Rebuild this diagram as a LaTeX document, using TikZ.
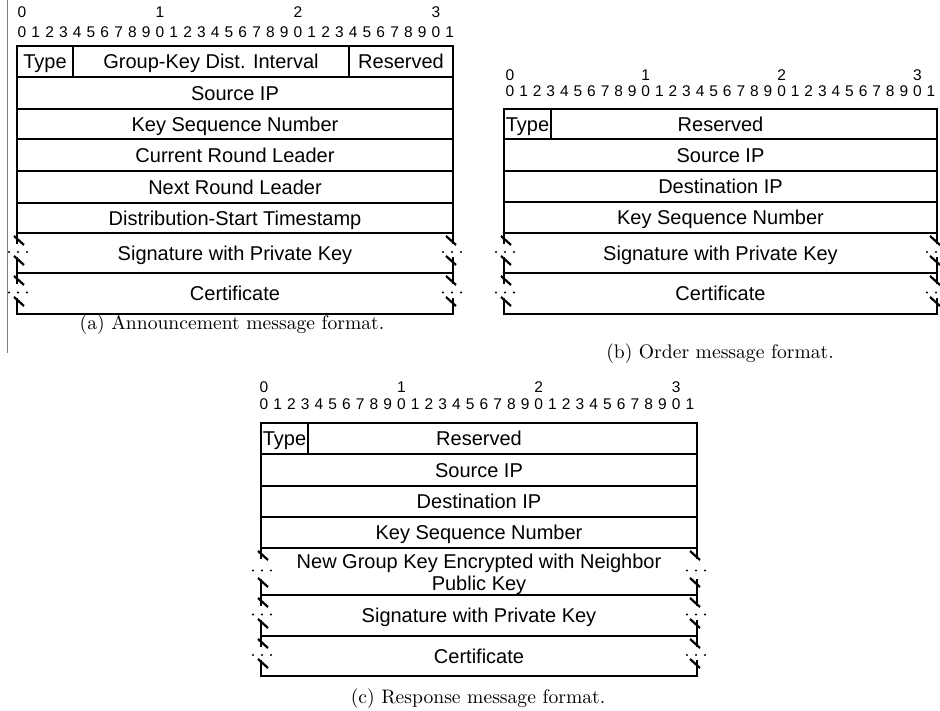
\documentclass[tikz,border=0pt]{standalone}
\usepackage{fontspec}
\newfontfamily\arialf{Liberation Sans}
\newfontfamily\capfont{lmroman10-regular.otf}
\tikzset{
  box/.style={line width=1.8pt, line cap=rect},
  slashl/.style={line width=2.2pt},
  cell/.style={font=\arialf\fontsize{20}{24}\selectfont, inner sep=0pt, text height=14.4pt, text depth=0pt},
  digit/.style={font=\arialf\fontsize{15.5}{18}\selectfont, inner sep=0pt, text height=11pt, text depth=0pt},
  capt/.style={font=\capfont\fontsize{19.6}{23}\selectfont, inner sep=0pt, text height=13.5pt, text depth=0pt}
}
% broken side: x, top, bottom, inward direction (1 left, -1 right)
\newcommand\brkside[4]{%
  \draw[box] (#1,#2) -- ({#1},{#2+10});
  \draw[slashl] ({#1+(#4)*2-5},{#2+3}) -- ({#1+(#4)*2+5},{#2+12});
  \foreach \q in {-9,0,9} \fill ({#1+\q+(#4)},{(#2+#3)/2-1}) circle (1.1);
  \draw[slashl] ({#1+(#4)*2-5},{#3-17}) -- ({#1+(#4)*2+5},{#3-8});
  \draw[box] ({#1},{#3-15}) -- (#1,#3);
}
% bit header: prefix, x0, dx, y top, y bottom
\newcommand\bithead[5]{%
  \foreach \i in {0,...,31} {%
    \pgfmathtruncatemacro\dd{mod(\i,10)}%
    \node[digit] (#1\i) at ({#2+#3*\i},#5) {\dd};
  }
  \foreach \i/\t in {0/0,10/1,20/2,30/3}
    \node[digit] (#1t\i) at ({#2+#3*\i},#4) {\t};
}
\begin{document}
\begin{tikzpicture}[x=1pt,y=-1pt]
\useasboundingbox (0,0) rectangle (940,711);
\fill[white] (0,0) rectangle (940,711);

% stray grey rule at the left
\draw[gray, line width=1.5pt] (7.5,0) coordinate (g1) -- (7.5,353) coordinate (g2);

% ---------------- (a) Announcement ----------------
\bithead{ha}{22}{13.8}{12.5}{32}
\draw[box] (17,46) rectangle (453,233);
\foreach \y in {77,109,139,171,203} \draw[box] (17,\y) -- (453,\y);
\draw[box] (73,46) -- (73,77) (349,46) -- (349,77);
\draw[box] (17,273) -- (453,273) (17,314) -- (453,314);
\brkside{17}{233}{273}{1}
\brkside{453}{233}{273}{-1}
\brkside{17}{273}{314}{1}
\brkside{453}{273}{314}{-1}
\node[cell] (a0) at (45,61.5) {Type};
\node[cell] (a1) at (211,61.5) {Group-Key Dist. Interval};
\node[cell] (a2) at (401,61.5) {Reserved};
\node[cell] (a3) at (235,93) {Source IP};
\node[cell] (a4) at (235,124) {Key Sequence Number};
\node[cell] (a5) at (235,155) {Current Round Leader};
\node[cell] (a6) at (235,187) {Next Round Leader};
\node[cell] (a7) at (235,218) {Distribution-Start Timestamp};
\node[cell] (a8) at (235,253) {Signature with Private Key};
\node[cell] (a9) at (235,293.5) {Certificate};
\node[capt] (acap) at (232,323) {(a) Announcement message format.};

% ---------------- (b) Order ----------------
\bithead{hb}{510}{13.58}{75.5}{91}
\draw[box] (504,109) rectangle (937,233);
\foreach \y in {139,171,202} \draw[box] (504,\y) -- (937,\y);
\draw[box] (551,109) -- (551,139);
\draw[box] (504,273) -- (937,273) (504,314) -- (937,314);
\brkside{504}{233}{273}{1}
\brkside{937}{233}{273}{-1}
\brkside{504}{273}{314}{1}
\brkside{937}{273}{314}{-1}
\node[cell] (b0) at (527.5,124) {Type};
\node[cell] (b1) at (720.5,124) {Reserved};
\node[cell] (b2) at (720.5,155) {Source IP};
\node[cell] (b3) at (720.5,186.5) {Destination IP};
\node[cell] (b4) at (720.5,217.5) {Key Sequence Number};
\node[cell] (b5) at (720.5,253) {Signature with Private Key};
\node[cell] (b6) at (720.5,293.5) {Certificate};
\node[capt] (bcap) at (720,352) {(b) Order message format.};

% ---------------- (c) Response ----------------
\bithead{hc}{264}{13.74}{387}{404}
\draw[box] (261,423) rectangle (697,548);
\foreach \y in {454,486,517} \draw[box] (261,\y) -- (697,\y);
\draw[box] (308,423) -- (308,454);
\draw[box] (261,595) -- (697,595) (261,636) -- (697,636) (261,676) -- (697,676);
\brkside{261}{548}{595}{1}
\brkside{697}{548}{595}{-1}
\brkside{261}{595}{636}{1}
\brkside{697}{595}{636}{-1}
\brkside{261}{636}{676}{1}
\brkside{697}{636}{676}{-1}
\node[cell] (c0) at (284.5,438.5) {Type};
\node[cell] (c1) at (479,438.5) {Reserved};
\node[cell] (c2) at (479,470) {Source IP};
\node[cell] (c3) at (479,501.5) {Destination IP};
\node[cell] (c4) at (479,532.5) {Key Sequence Number};
\node[cell] (c5) at (479,561) {New Group Key Encrypted with Neighbor};
\node[cell] (c6) at (479,583) {Public Key};
\node[cell] (c7) at (479,615.5) {Signature with Private Key};
\node[cell] (c8) at (479,656) {Certificate};
\node[capt] (ccap) at (478,697) {(c) Response message format.};
\end{tikzpicture}
\end{document}
